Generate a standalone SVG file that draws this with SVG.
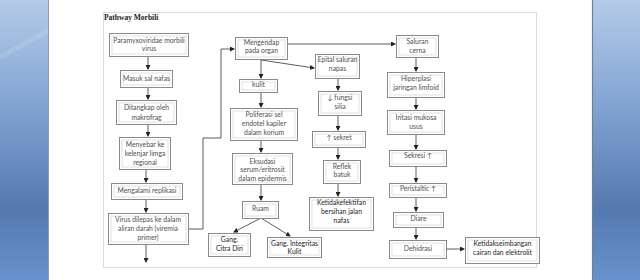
<svg xmlns="http://www.w3.org/2000/svg" width="640" height="280" viewBox="0 0 640 280">
<defs>
<linearGradient id="bl" x1="0" y1="0" x2="0" y2="1">
<stop offset="0" stop-color="#b4cbe9"/>
<stop offset="0.35" stop-color="#86a7d4"/>
<stop offset="0.75" stop-color="#5479b0"/>
<stop offset="1" stop-color="#6892cc"/>
</linearGradient>
<marker id="ah" markerWidth="5" markerHeight="5" refX="4" refY="2.5" orient="auto" markerUnits="userSpaceOnUse">
<path d="M0,0 L5,2.5 L0,5 Z" fill="#222"/>
</marker>
<style>
.o{fill:#fff;stroke:#8a8a8a;stroke-width:1}
.i{fill:none;stroke:#d4d4d4;stroke-width:0.7}
.t{font-family:Lato,"Open Sans",sans-serif;font-size:6.8px;fill:#505050;text-anchor:middle}
.d{fill:#1e1e1e}
.c{fill:none;stroke:#333;stroke-width:0.8}
</style>
</defs>
<rect x="0" y="0" width="640" height="280" fill="#fff"/>
<rect x="0" y="0" width="48" height="280" fill="url(#bl)"/>
<path d="M0,55 Q25,40 48,28 L48,34 Q25,46 0,60 Z" fill="#ffffff" opacity="0.12"/>
<line x1="48.5" y1="0" x2="48.5" y2="280" stroke="#8c9cb0" stroke-width="1"/>
<rect x="592" y="0" width="48" height="280" fill="url(#bl)"/>
<line x1="592.5" y1="0" x2="592.5" y2="280" stroke="#6f7f95" stroke-width="1.2"/>
<rect x="103.5" y="12.5" width="433" height="255" fill="#fff" stroke="#dcdcdc" stroke-width="1"/>
<text x="104" y="20" font-family="'Liberation Serif',serif" font-size="7.5" font-weight="bold" fill="#222">Pathway Morbili</text>

<g id="connectors">
<line class="c" x1="148" y1="57" x2="148" y2="69" marker-end="url(#ah)"/>
<line class="c" x1="148" y1="88" x2="148" y2="99" marker-end="url(#ah)"/>
<line class="c" x1="148" y1="125" x2="148" y2="136" marker-end="url(#ah)"/>
<line class="c" x1="146" y1="170" x2="146" y2="182" marker-end="url(#ah)"/>
<line class="c" x1="146" y1="200" x2="146" y2="212" marker-end="url(#ah)"/>
<line class="c" x1="146" y1="245" x2="146" y2="262" marker-end="url(#ah)"/>
<polyline class="c" points="188,229 203,229 203,138 221,138 221,49 234,49" marker-end="url(#ah)"/>
<line class="c" x1="287" y1="44" x2="395" y2="44" marker-end="url(#ah)"/>
<line class="c" x1="261" y1="60" x2="261" y2="78" marker-end="url(#ah)"/>
<line class="c" x1="261" y1="60" x2="314" y2="68" marker-end="url(#ah)"/>
<line class="c" x1="261" y1="92" x2="261" y2="107" marker-end="url(#ah)"/>
<line class="c" x1="261" y1="140" x2="261" y2="152" marker-end="url(#ah)"/>
<line class="c" x1="261" y1="185" x2="261" y2="200" marker-end="url(#ah)"/>
<line class="c" x1="261" y1="218" x2="234" y2="232" marker-end="url(#ah)"/>
<line class="c" x1="261" y1="218" x2="290" y2="236" marker-end="url(#ah)"/>
<line class="c" x1="338" y1="78" x2="338" y2="90" marker-end="url(#ah)"/>
<line class="c" x1="338" y1="115" x2="338" y2="130" marker-end="url(#ah)"/>
<line class="c" x1="338" y1="147" x2="338" y2="159" marker-end="url(#ah)"/>
<line class="c" x1="338" y1="183" x2="338" y2="196" marker-end="url(#ah)"/>
<line class="c" x1="416" y1="57" x2="416" y2="71" marker-end="url(#ah)"/>
<line class="c" x1="416" y1="97" x2="416" y2="109" marker-end="url(#ah)"/>
<line class="c" x1="416" y1="134" x2="416" y2="149" marker-end="url(#ah)"/>
<line class="c" x1="416" y1="166" x2="416" y2="182" marker-end="url(#ah)"/>
<line class="c" x1="416" y1="197" x2="416" y2="211" marker-end="url(#ah)"/>
<line class="c" x1="416" y1="227" x2="416" y2="239" marker-end="url(#ah)"/>
<line class="c" x1="446" y1="249" x2="464" y2="249" marker-end="url(#ah)"/>
</g>

<g id="n1"><rect class="o" x="109.5" y="33.5" width="79" height="23"/><rect class="i" x="112" y="36" width="74" height="18"/>
<text class="t" x="149" y="42.5">Paramyxoviridae morbili</text><text class="t" x="149" y="51">virus</text></g>
<g id="n2"><rect class="o" x="120.5" y="70.5" width="52" height="17"/><rect class="i" x="123" y="73" width="47" height="12"/>
<text class="t" x="146.5" y="81.3">Masuk sal nafas</text></g>
<g id="n3"><rect class="o" x="116.5" y="100.5" width="60" height="24"/><rect class="i" x="119" y="103" width="55" height="19"/>
<text class="t" x="146.5" y="110.3">Ditangkap oleh</text><text class="t" x="146.5" y="120">makrofrag</text></g>
<g id="n4"><rect class="o" x="119.5" y="137.5" width="51" height="32"/><rect class="i" x="122" y="140" width="46" height="27"/>
<text class="t" x="145" y="147.3">Menyebar ke</text><text class="t" x="145" y="156.3">kelenjar limga</text><text class="t" x="145" y="165.3">regional</text></g>
<g id="n5"><rect class="o" x="111.5" y="183.5" width="71" height="16"/><rect class="i" x="114" y="186" width="66" height="11"/>
<text class="t" x="147" y="193.3">Mengalami replikasi</text></g>
<g id="n6"><rect class="o" x="108.5" y="213.5" width="80" height="31"/><rect class="i" x="111" y="216" width="75" height="26"/>
<text class="t" x="148" y="222.3">Virus dilepas ke dalam</text><text class="t" x="148" y="231.3">aliran darah (viremia</text><text class="t" x="148" y="240.3">primer)</text></g>

<g id="n7"><rect class="o" x="235.5" y="37.5" width="52" height="22"/><rect class="i" x="238" y="40" width="47" height="17"/>
<text class="t" x="261.5" y="45.3">Mengendap</text><text class="t" x="261.5" y="53.3">pada organ</text></g>
<g id="n8"><rect class="o" x="239.5" y="79.5" width="38" height="13"/><rect class="i" x="242" y="82" width="33" height="8"/>
<text class="t" x="258.5" y="87.3">kulit</text></g>
<g id="n9"><rect class="o" x="230.5" y="108.5" width="67" height="32"/><rect class="i" x="233" y="111" width="62" height="27"/>
<text class="t" x="264" y="117.3">Poliferasi sel</text><text class="t" x="264" y="126.3">endotel kapiler</text><text class="t" x="264" y="135.3">dalam korium</text></g>
<g id="n10"><rect class="o" x="232.5" y="153.5" width="60" height="31"/><rect class="i" x="235" y="156" width="55" height="26"/>
<text class="t" x="262.5" y="164.3">Eksudasi</text><text class="t" x="262.5" y="172.3">serum/eritrosit</text><text class="t" x="262.5" y="181.3">dalam epidermis</text></g>
<g id="n11"><rect class="o" x="242.5" y="201.5" width="36" height="17"/><rect class="i" x="245" y="204" width="31" height="12"/>
<text class="t" x="260.5" y="211.3">Ruam</text></g>
<g id="n12"><rect class="o" x="208.5" y="233.5" width="42" height="23"/><rect class="i" x="211" y="236" width="37" height="18"/>
<text class="t d" x="229.5" y="242.3">Gang.</text><text class="t d" x="229.5" y="251.3">Citra Diri</text></g>
<g id="n13"><rect class="o" x="267.5" y="237.5" width="54" height="20"/><rect class="i" x="270" y="240" width="49" height="15"/>
<text class="t d" x="294.5" y="246.3">Gang. Integritas</text><text class="t d" x="294.5" y="254.3">Kulit</text></g>

<g id="n14"><rect class="o" x="315.5" y="54.5" width="44" height="24"/><rect class="i" x="318" y="57" width="39" height="19"/>
<text class="t" x="337.5" y="62.3">Epital saluran</text><text class="t" x="337.5" y="71.3">napas</text></g>
<g id="n15"><rect class="o" x="318.5" y="91.5" width="43" height="24"/><rect class="i" x="321" y="94" width="38" height="19"/>
<text class="t" x="340" y="100.3">↓ fungsi</text><text class="t" x="340" y="109.3">silia</text></g>
<g id="n16"><rect class="o" x="312.5" y="131.5" width="53" height="16"/><rect class="i" x="315" y="134" width="48" height="11"/>
<text class="t" x="339" y="140.3">↑ sekret</text></g>
<g id="n17"><rect class="o" x="323.5" y="160.5" width="37" height="23"/><rect class="i" x="326" y="163" width="32" height="18"/>
<text class="t" x="342" y="169.3">Reflek</text><text class="t" x="342" y="177.3">batuk</text></g>
<g id="n18"><rect class="o" x="309.5" y="197.5" width="64" height="33"/><rect class="i" x="312" y="200" width="59" height="28"/>
<text class="t d" x="341.5" y="205.3">Ketidakefektifan</text><text class="t d" x="341.5" y="214.3">bersihan jalan</text><text class="t d" x="341.5" y="223.3">nafas</text></g>

<g id="n19"><rect class="o" x="396.5" y="35.5" width="42" height="22"/><rect class="i" x="399" y="38" width="37" height="17"/>
<text class="t" x="417.5" y="44.3">Saluran</text><text class="t" x="417.5" y="53.3">cerna</text></g>
<g id="n20"><rect class="o" x="387.5" y="72.5" width="57" height="25"/><rect class="i" x="390" y="75" width="52" height="20"/>
<text class="t" x="416" y="81.3">Hiperplasi</text><text class="t" x="416" y="90.3">jaringan limfoid</text></g>
<g id="n21"><rect class="o" x="387.5" y="110.5" width="57" height="24"/><rect class="i" x="390" y="113" width="52" height="19"/>
<text class="t" x="416" y="120.3">Iritasi mukosa</text><text class="t" x="416" y="129.3">usus</text></g>
<g id="n22"><rect class="o" x="389.5" y="150.5" width="57" height="16"/><rect class="i" x="392" y="153" width="52" height="11"/>
<text class="t" x="418" y="158.3">Sekresi ↑</text></g>
<g id="n23"><rect class="o" x="389.5" y="183.5" width="57" height="14"/><rect class="i" x="392" y="186" width="52" height="9"/>
<text class="t" x="418" y="191.3">Peristaltic ↑</text></g>
<g id="n24"><rect class="o" x="393.5" y="212.5" width="50" height="15"/><rect class="i" x="396" y="215" width="45" height="10"/>
<text class="t" x="418.5" y="221.3">Diare</text></g>
<g id="n25"><rect class="o" x="389.5" y="240.5" width="57" height="18"/><rect class="i" x="392" y="243" width="52" height="13"/>
<text class="t" x="418" y="251.3">Dehidrasi</text></g>
<g id="n26"><rect class="o" x="465.5" y="237.5" width="74" height="26"/><rect class="i" x="468" y="240" width="69" height="21"/>
<text class="t d" x="502.5" y="246.3">Ketidakseimbangan</text><text class="t d" x="502.5" y="255.3">cairan dan elektrolit</text></g>
</svg>
